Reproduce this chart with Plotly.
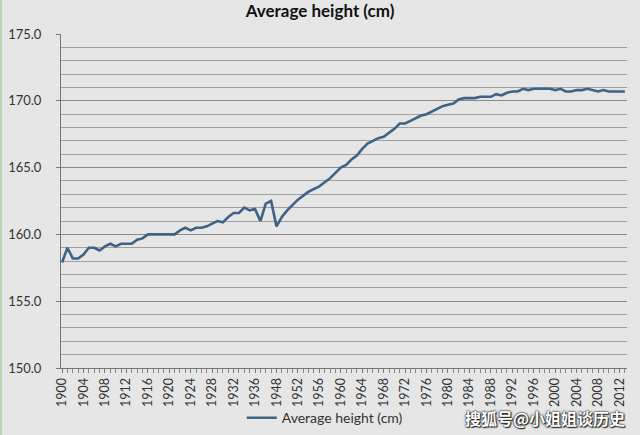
import plotly.graph_objects as go

years = [str(y) for y in range(1900, 1940)] + [str(y) for y in range(1948, 2014)]
heights = [
    157.9, 159.0, 158.2, 158.2, 158.5, 159.0, 159.0, 158.8, 159.1, 159.3,
    159.1, 159.3, 159.3, 159.3, 159.6, 159.7, 160.0, 160.0, 160.0, 160.0,
    160.0, 160.0, 160.3, 160.5, 160.3, 160.5, 160.5, 160.6, 160.8, 161.0,
    160.9, 161.3, 161.6, 161.6, 162.0, 161.8, 161.9, 161.0, 162.3, 162.5,
    160.6, 161.3, 161.8, 162.2, 162.6, 162.9, 163.2, 163.4, 163.6, 163.9,
    164.2, 164.6, 165.0, 165.2, 165.6, 165.9, 166.4, 166.8, 167.0, 167.2,
    167.3, 167.6, 167.9, 168.3, 168.3, 168.5, 168.7, 168.9, 169.0, 169.2,
    169.4, 169.6, 169.7, 169.8, 170.1, 170.2, 170.2, 170.2, 170.3, 170.3,
    170.3, 170.5, 170.4, 170.6, 170.7, 170.7, 170.9, 170.8, 170.9, 170.9,
    170.9, 170.9, 170.8, 170.9, 170.7, 170.7, 170.8, 170.8, 170.9, 170.8,
    170.7, 170.8, 170.7, 170.7, 170.7, 170.7,
]
series_name = "Average height (cm)"
title_text = "Average height (cm)"
watermark = "搜狐号@小姐姐谈历史"

xs = list(range(len(years)))
tick_idx = xs[::4]
tick_lbl = [years[i] for i in tick_idx]

bg = "#e6e6e6"
font_family = "Lato, 'Open Sans', sans-serif"

fig = go.Figure()
fig.add_trace(go.Scatter(
    x=xs, y=heights, mode="lines", name=series_name,
    line=dict(color="#3f6287", width=2.6),
))

fig.update_layout(
    width=640, height=435,
    margin=dict(l=61, r=13, t=34, b=67, autoexpand=False),
    paper_bgcolor=bg, plot_bgcolor=bg,
    font=dict(family=font_family, size=13, color="#333333"),
    title=dict(text="<b>" + title_text + "</b>", x=0.5, xref="container",
               xanchor="center", y=1 - 11 / 435, yanchor="middle",
               font=dict(size=17, color="#111111", family=font_family)),
    showlegend=True,
    legend=dict(orientation="h", x=0.466, xanchor="center", y=-0.15,
                yanchor="middle", bgcolor="rgba(0,0,0,0)",
                font=dict(size=14, color="#333333")),
    xaxis=dict(
        automargin=False,
        range=[-0.2, len(years) - 0.6],
        tickmode="array", tickvals=tick_idx, ticktext=tick_lbl,
        tickangle=-90, ticks="outside", ticklen=4, tickcolor="#777777",
        showgrid=False, zeroline=False,
        showline=True, linecolor="#777777", linewidth=1,
        minor=dict(dtick=1, tick0=0, ticks="outside", ticklen=4,
                   tickcolor="#888888", showgrid=False),
        tickfont=dict(size=12.5, color="#333333"),
    ),
    yaxis=dict(
        automargin=False,
        range=[150, 175], dtick=5, tick0=150, tickformat=".1f",
        ticks="outside", ticklen=4, tickcolor="#777777",
        ticklabelstandoff=12,
        showgrid=True, gridcolor="#8a8a8a", gridwidth=1,
        zeroline=False, showline=True, linecolor="#777777", linewidth=1,
        minor=dict(dtick=1, showgrid=True, gridcolor="#a0a0a0", gridwidth=1),
        tickfont=dict(size=13, color="#333333"),
    ),
    shapes=[dict(type="line", xref="paper", yref="paper",
                 x0=-60 / 566, x1=-60 / 566, y0=-67 / 334, y1=1 + 34 / 334,
                 line=dict(color="#b8d6b2", width=2))],
    annotations=[dict(
        text="<b>" + watermark + "</b>", xref="paper", yref="paper",
        x=1.0, y=-0.15, xanchor="right", yanchor="middle", showarrow=False,
        font=dict(size=16, color="#ffffff", family="Noto Sans CJK SC",
                  shadow="0px 0px 2px #222, 0px 0px 2px #222, 1px 1px 1px #222"),
    )],
)

fig.write_html("out.html")
